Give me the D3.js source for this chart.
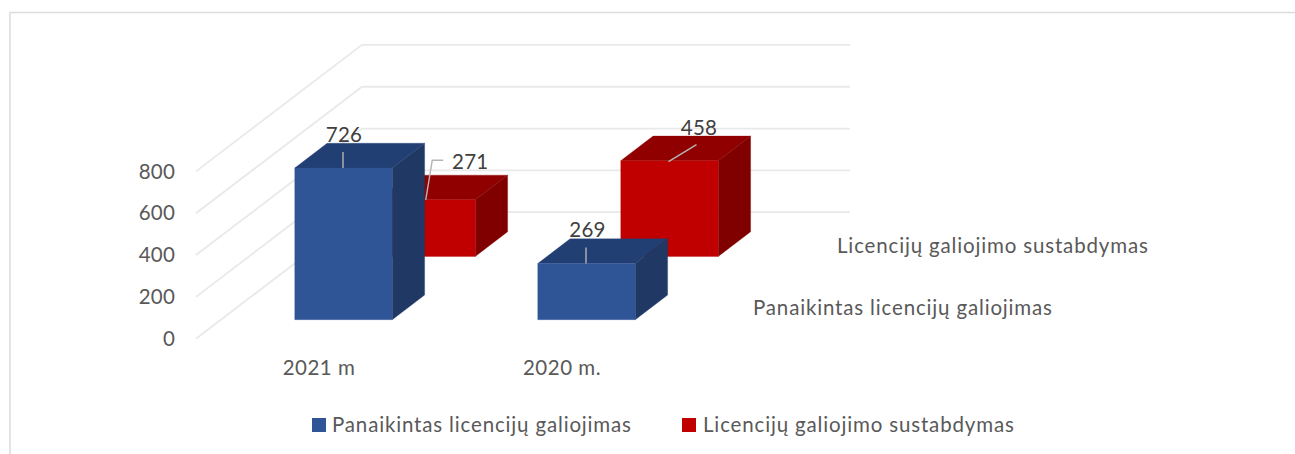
<!DOCTYPE html>
<html><head><meta charset="utf-8">
<script src="https://d3js.org/d3.v7.min.js"></script>
<style>html,body{margin:0;padding:0;background:#fff}svg{display:block}text{font-family:Lato,sans-serif}</style>
</head><body><div id="c"></div>
<script>
const categories = ["2021 m", "2020 m."];
const seriesNames = ["Panaikintas licencijų galiojimas", "Licencijų galiojimo sustabdymas"];
const revoked = [726, 269];
const suspended = [271, 458];
const yTicks = [0, 200, 400, 600, 800];

const W = 1295, H = 454;
const svg = d3.select("#c").append("svg").attr("width", W).attr("height", H);
const y = d3.scaleLinear().domain([0, 800]).range([0, 167.3]);
const x = d3.scaleLinear().domain([0, 2]).range([197.5, 683.5]);
const depth = d3.scaleLinear().domain([0, 1]).range([0, 1]);
const floorX = 166, floorY = 126.5, x0 = 196, y0 = 338.7;
const proj = (px, t, v) => [px + floorX * depth(t), y0 - floorY * depth(t) - y(v)];
const barW = 97.5, barD = 0.195;
const seriesT = [0.15, 0.65];
const styles = [
  {front: "#2f5597", top: "#223f73", side: "#1f3864"},
  {front: "#c00000", top: "#900000", side: "#800000"}
];
const tickColor = "#e9e9e9";

// chart frame
svg.append("path").attr("d", "M10 454V12.5H1295").attr("fill", "none").attr("stroke", "#dcdcdc").attr("stroke-width", 1.5);

// gridlines
yTicks.forEach(t => {
  const a = [x0, y0 - y(t)], b = proj(x0, 1, t);
  svg.append("path").attr("d", d3.line()([a, b, [850, b[1]]]))
    .attr("fill", "none").attr("stroke", tickColor).attr("stroke-width", 1.8);
  svg.append("text").attr("x", 175).attr("y", y0 - y(t) + 2).attr("text-anchor", "end")
    .attr("dominant-baseline", "middle").attr("font-size", 20.5).attr("letter-spacing", 0.2).attr("fill", "#595959").text(t);
});

function bar(cat, s, v) {
  const st = styles[s], t0 = seriesT[s], t1 = t0 + barD;
  const l = x(cat + 0.5) - barW / 2 + 24.5 - floorX * 0.15, r = l + barW;
  const g = svg.append("g");
  const P = (px, t, val) => proj(px, t, val);
  const poly = (pts, fill) => g.append("polygon").attr("points", pts.map(p => p.join(",")).join(" "))
    .attr("fill", fill).attr("stroke", fill).attr("stroke-width", 0.6).attr("stroke-opacity", 0.5);
  poly([P(l, t0, v), P(r, t0, v), P(r, t1, v), P(l, t1, v)], st.top);
  poly([P(r, t0, 0), P(r, t1, 0), P(r, t1, v), P(r, t0, v)], st.side);
  poly([P(l, t0, 0), P(r, t0, 0), P(r, t0, v), P(l, t0, v)], st.front);
  return {l, r, top: P(l, t0, v)[1], left: P(l, t0, v)[0], right: P(r, t0, v)[0]};
}

const geo = {};
[1, 0].forEach(c => {
  geo["s1c" + c] = bar(c, 1, suspended[c]);
  geo["s0c" + c] = bar(c, 0, revoked[c]);
});

// leader lines + data labels
const leaderColor = "#b5b5b5";
function label(val, cx, cy, pts) {
  svg.append("path").attr("d", d3.line()(pts)).attr("fill", "none").attr("stroke", leaderColor).attr("stroke-width", 1.4);
  svg.append("text").attr("x", cx).attr("y", cy).attr("text-anchor", "middle").attr("dominant-baseline", "middle")
    .attr("font-size", 20.5).attr("letter-spacing", 0.2).attr("fill", "#404040").text(val);
}
let b = geo.s0c0, mid = (b.left + b.right) / 2;
label(revoked[0], mid + 0.5, b.top - 31, [[mid - 0.5, b.top - 16], [mid - 0.5, b.top]]);
b = geo.s1c0;
label(suspended[0], b.right - 5, b.top - 36, [[b.right - 32, b.top - 39.5], [b.right - 43, b.top - 39.5], [b.right - 49.5, b.top]]);
b = geo.s0c1; mid = (b.left + b.right) / 2;
label(revoked[1], mid + 1, b.top - 32, [[mid - 0.5, b.top - 16], [mid - 0.5, b.top]]);
b = geo.s1c1; mid = (b.left + b.right) / 2;
label(suspended[1], mid + 29.5, b.top - 31, [[mid + 27, b.top - 16], [mid - 1, b.top + 1]]);

// category labels
categories.forEach((c, i) => {
  svg.append("text").attr("x", [319, 562][i]).attr("y", 369.5).attr("text-anchor", "middle")
    .attr("dominant-baseline", "middle").attr("font-size", 20.5).attr("letter-spacing", 0.5).attr("fill", "#595959").text(c);
});

// depth axis labels
[[753, 309.5, 0], [837, 247.5, 1]].forEach(([px, py, s]) => {
  svg.append("text").attr("x", px).attr("y", py).attr("dominant-baseline", "middle")
    .attr("font-size", 20.5).attr("fill", "#595959").attr("letter-spacing", 0.84).text(seriesNames[s]);
});

// legend
[[312, 332, 0], [682, 703, 1]].forEach(([sx, tx, s]) => {
  svg.append("rect").attr("x", sx).attr("y", 418).attr("width", 14).attr("height", 14).attr("fill", styles[s].front);
  svg.append("text").attr("x", tx).attr("y", 426.5).attr("dominant-baseline", "middle")
    .attr("font-size", 20.5).attr("fill", "#595959").attr("letter-spacing", 0.84).text(seriesNames[s]);
});
</script></body></html>
